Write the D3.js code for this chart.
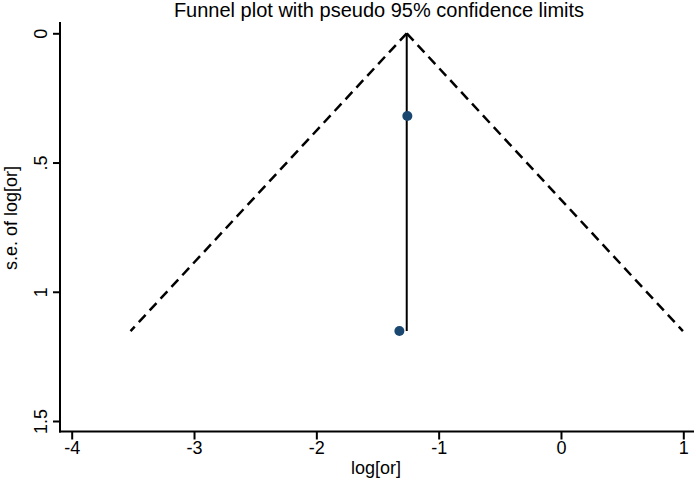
<!DOCTYPE html>
<html>
<head>
<meta charset="utf-8">
<script src="https://cdn.jsdelivr.net/npm/d3@7"></script>
<style>
  body { margin: 0; background: #fff; }
  svg { display: block; font-family: "Liberation Sans", Arial, sans-serif; }
</style>
</head>
<body>
<svg id="chart" width="696" height="482"></svg>
<script>
// Data
const studyLogOR = [-1.256, -1.321];
const studySE = [0.320, 1.152];
const pooledLogOR = -1.261;
const xTicks = [-4, -3, -2, -1, 0, 1];
const yTicks = [0, 0.5, 1, 1.5];
const yTickLabels = ["0", ".5", "1", "1.5"];
const titleText = "Funnel plot with pseudo 95% confidence limits";
const xTitle = "log[or]";
const yTitle = "s.e. of log[or]";

const svg = d3.select("#chart");
const x = d3.scaleLinear().domain([-4, 1]).range([71.7, 683.3]);
const y = d3.scaleLinear().domain([0, 1.5]).range([33.3, 421]);

const axisX0 = 60, axisY0 = 431.5;
const FS = 18;

// Title
svg.append("text").attr("x", 379).attr("y", 17).attr("text-anchor", "middle")
  .attr("font-size", 20).attr("fill", "#000").text(titleText);

// Funnel
const maxSE = d3.max(studySE);
const z = 1.96;
const funnelL = [[pooledLogOR, 0], [pooledLogOR - z * maxSE, maxSE]];
const funnelR = [[pooledLogOR, 0], [pooledLogOR + z * maxSE, maxSE]];
const line = d3.line().x(d => x(d[0])).y(d => y(d[1]));
[funnelL, funnelR].forEach(f => {
  svg.append("path").attr("d", line(f)).attr("fill", "none")
    .attr("stroke", "#000").attr("stroke-width", 2.5)
    .attr("stroke-dasharray", "10,6");
});
// Pooled vertical line
svg.append("path").attr("d", line([[pooledLogOR, 0], [pooledLogOR, maxSE]]))
  .attr("stroke", "#000").attr("stroke-width", 2).attr("fill", "none");

// Points
svg.selectAll("circle.pt").data(studyLogOR).enter().append("circle")
  .attr("class", "pt")
  .attr("cx", d => x(d)).attr("cy", (d, i) => y(studySE[i]))
  .attr("r", 5).attr("fill", "#1a476f");

// Axes
const xAxis = d3.axisBottom(x).tickValues(xTicks).tickSize(8).tickPadding(2)
  .tickFormat(d => d < 0 ? "-" + Math.abs(d) : String(d));
const gx = svg.append("g").attr("transform", `translate(0,${axisY0})`).call(xAxis);
gx.select(".domain").remove();
gx.selectAll(".tick line").attr("stroke", "#000").attr("stroke-width", 2);
gx.selectAll(".tick text").attr("font-size", FS).attr("fill", "#000")
  .attr("font-family", "Liberation Sans, Arial, sans-serif");
svg.append("line").attr("x1", axisX0 - 1).attr("x2", 694).attr("y1", axisY0).attr("y2", axisY0)
  .attr("stroke", "#000").attr("stroke-width", 2);

const yAxis = d3.axisLeft(y).tickValues(yTicks).tickSize(7).tickPadding(4)
  .tickFormat((d, i) => yTickLabels[i]);
const gy = svg.append("g").attr("transform", `translate(${axisX0},0)`).call(yAxis);
gy.select(".domain").remove();
gy.selectAll(".tick line").attr("stroke", "#000").attr("stroke-width", 2);
gy.selectAll(".tick text").attr("font-size", FS).attr("fill", "#000")
  .attr("font-family", "Liberation Sans, Arial, sans-serif")
  .attr("text-anchor", "middle").attr("dy", null)
  .attr("transform", "rotate(-90)")
  .attr("x", 0).attr("y", -13);
svg.append("line").attr("x1", axisX0).attr("x2", axisX0).attr("y1", 22).attr("y2", axisY0 + 1)
  .attr("stroke", "#000").attr("stroke-width", 2);

// Axis titles
svg.append("text").attr("x", 376).attr("y", 474).attr("text-anchor", "middle")
  .attr("font-size", FS).attr("fill", "#000").text(xTitle);
svg.append("text").attr("transform", "translate(17,218) rotate(-90)")
  .attr("text-anchor", "middle").attr("font-size", FS).attr("fill", "#000").text(yTitle);
</script>
</body>
</html>
